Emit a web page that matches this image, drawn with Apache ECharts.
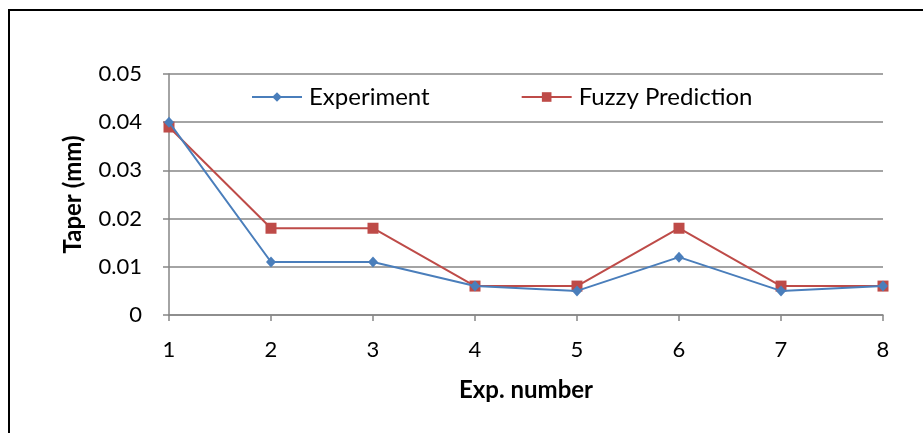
<!DOCTYPE html>
<html>
<head>
<meta charset="utf-8">
<script src="https://cdn.jsdelivr.net/npm/echarts@6/dist/echarts.min.js"></script>
<style>
html,body{margin:0;padding:0;background:#fff;overflow:hidden;}
#frame{position:absolute;left:8px;top:9px;width:1000px;height:500px;border-top:2px solid #000;border-left:2px solid #000;}
#chart{position:absolute;left:0;top:0;width:923px;height:433px;}
</style>
</head>
<body>
<div id="frame"></div>
<div id="chart"></div>
<script>
const categories = ['1','2','3','4','5','6','7','8'];
const experiment = [0.040, 0.011, 0.011, 0.006, 0.005, 0.012, 0.005, 0.006];
const fuzzyPrediction = [0.039, 0.018, 0.018, 0.006, 0.006, 0.018, 0.006, 0.006];
const yTicks = [0, 0.01, 0.02, 0.03, 0.04, 0.05];

const FONT = 'Lato, "Open Sans", sans-serif';
const chart = echarts.init(document.getElementById('chart'), null, {renderer:'canvas'});
chart.setOption({
  animation:false,
  backgroundColor:'transparent',
  grid:{left:169, right:40, top:74, bottom:118},
  legend:{
    left:246, top:80, itemWidth:50, itemHeight:12, itemGap:91,
    textStyle:{fontFamily:FONT, fontSize:24, color:'#000', padding:[0,0,0,2]},
    data:['Experiment','Fuzzy Prediction']
  },
  xAxis:{
    type:'category', data:categories, boundaryGap:false,
    name:'Exp. number', nameLocation:'middle', nameGap:63,
    nameTextStyle:{fontFamily:FONT, fontSize:24, fontWeight:'bold', color:'#000'},
    axisLine:{lineStyle:{color:'#868686', width:1.5}},
    axisTick:{show:true, length:6, lineStyle:{color:'#868686', width:1.5}},
    axisLabel:{fontFamily:FONT, fontSize:22, color:'#000', margin:24},
    splitLine:{show:false}
  },
  yAxis:{
    type:'value', min:0, max:0.05, interval:0.01,
    name:'Taper (mm)', nameLocation:'middle', nameGap:84, nameRotate:90,
    nameTextStyle:{fontFamily:FONT, fontSize:24, fontWeight:'bold', color:'#000'},
    axisLine:{show:true, lineStyle:{color:'#868686', width:1.5}},
    axisTick:{show:true, length:6, lineStyle:{color:'#868686', width:1.5}},
    axisLabel:{fontFamily:FONT, fontSize:22, color:'#000', margin:27,
      formatter:function(v){ const t = yTicks.find(x=>Math.abs(x-v)<1e-9); return t===0?'0':String(+t.toFixed(2)); }},
    splitLine:{show:true, lineStyle:{color:'#868686', width:1.5}}
  },
  series:[
    {name:'Experiment', type:'line', data:experiment, symbol:'diamond', symbolSize:[10,11],
      itemStyle:{color:'#4a7ebb'}, lineStyle:{color:'#4a7ebb', width:2}, z:3},
    {name:'Fuzzy Prediction', type:'line', data:fuzzyPrediction, symbol:'rect', symbolSize:[11,11],
      itemStyle:{color:'#be4b48'}, lineStyle:{color:'#be4b48', width:2}, z:2}
  ]
});
</script>
</body>
</html>
